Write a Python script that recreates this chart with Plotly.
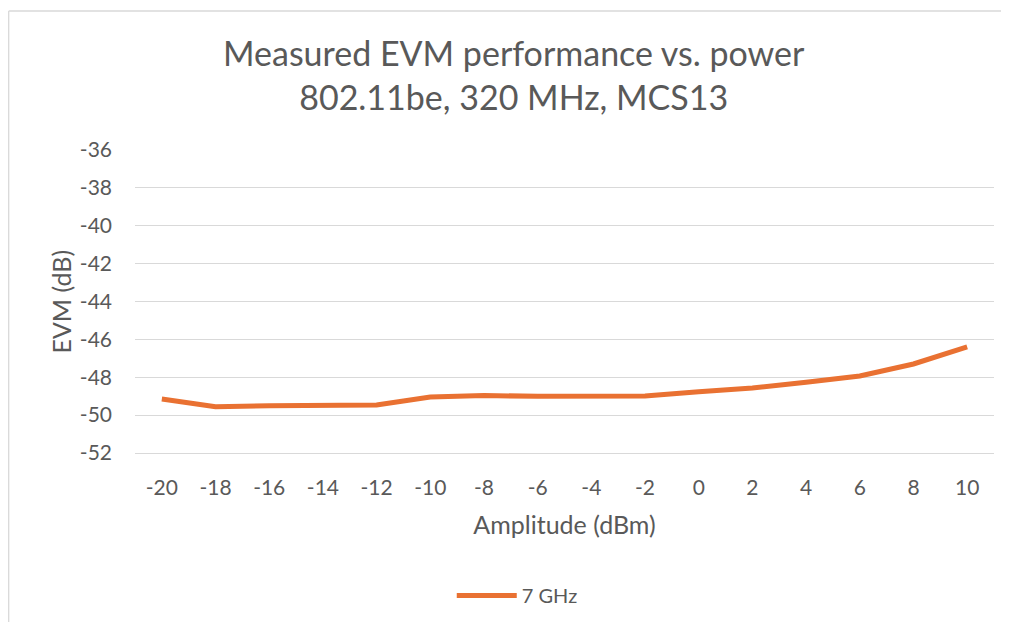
import plotly.graph_objects as go

amplitude_dbm = [-20, -18, -16, -14, -12, -10, -8, -6, -4, -2, 0, 2, 4, 6, 8, 10]
evm_7ghz = [-49.15, -49.56, -49.51, -49.48, -49.47, -49.04, -48.97, -49.0,
            -49.02, -48.99, -48.76, -48.57, -48.26, -47.93, -47.30, -46.40]
y_ticks = [-52, -50, -48, -46, -44, -42, -40, -38, -36]
y_labels = [str(v) for v in y_ticks]
x_labels = [str(v) for v in amplitude_dbm]

FONT = "Lato"
GREY = "#595959"
ORANGE = "#E97132"
BORDER = "#D9D9D9"

# page body has an 8px default margin; compensate
W, H = 993, 614
L, T = 127, 142
PW, PH = 859, 308

fig = go.Figure()
fig.add_trace(go.Scatter(
    x=x_labels, y=evm_7ghz, mode="lines", name="7 GHz",
    line=dict(color=ORANGE, width=5),
))

bx0 = -(L - 0.7) / PW
by1 = 1 + (T - 0.7) / PH

fig.update_layout(
    width=W, height=H,
    margin=dict(l=L, r=W - L - PW, t=T, b=H - T - PH),
    paper_bgcolor="white", plot_bgcolor="white",
    font=dict(family=FONT, color=GREY, size=21),
    showlegend=True,
    legend=dict(orientation="h", x=0.445, xanchor="center", y=-0.47, yanchor="middle",
                font=dict(size=20, color=GREY), itemwidth=60),
    xaxis=dict(
        type="category", range=[-0.5, len(x_labels) - 0.5],
        showgrid=False, showline=True, linecolor=BORDER, linewidth=1.3,
        ticks="", tickfont=dict(size=21, color=GREY), ticklabelstandoff=16,
        title=dict(text="Amplitude (dBm)", font=dict(size=25, color=GREY), standoff=18),
        zeroline=False,
    ),
    yaxis=dict(
        range=[-52, -36], tickvals=y_ticks, ticktext=y_labels,
        showgrid=True, gridcolor=BORDER, gridwidth=1.3,
        zeroline=False, ticks="", tickfont=dict(size=21, color=GREY), ticklabelstandoff=22,
        showline=False,
    ),
    shapes=[
        dict(type="line", xref="paper", yref="paper", x0=bx0, x1=1.1, y0=by1, y1=by1,
             line=dict(color=BORDER, width=1.3), layer="below"),
        dict(type="line", xref="paper", yref="paper", x0=bx0, x1=bx0, y0=-0.8, y1=by1,
             line=dict(color=BORDER, width=1.3), layer="below"),
    ],
    annotations=[
        dict(text="Measured EVM performance vs. power<br>802.11be, 320 MHz, MCS13",
             xref="paper", yref="paper", x=(514 - 135) / PW, y=1 + (142 - 65.5) / PH,
             xanchor="center", yanchor="middle", showarrow=False,
             font=dict(size=34, color=GREY, family=FONT)),
        dict(text="EVM (dB)", textangle=-90,
             xref="paper", yref="paper", x=(52 - L) / PW, y=0.5,
             xanchor="center", yanchor="middle", showarrow=False,
             font=dict(size=25, color=GREY, family=FONT)),
    ],
)

fig.write_html("out.html")
